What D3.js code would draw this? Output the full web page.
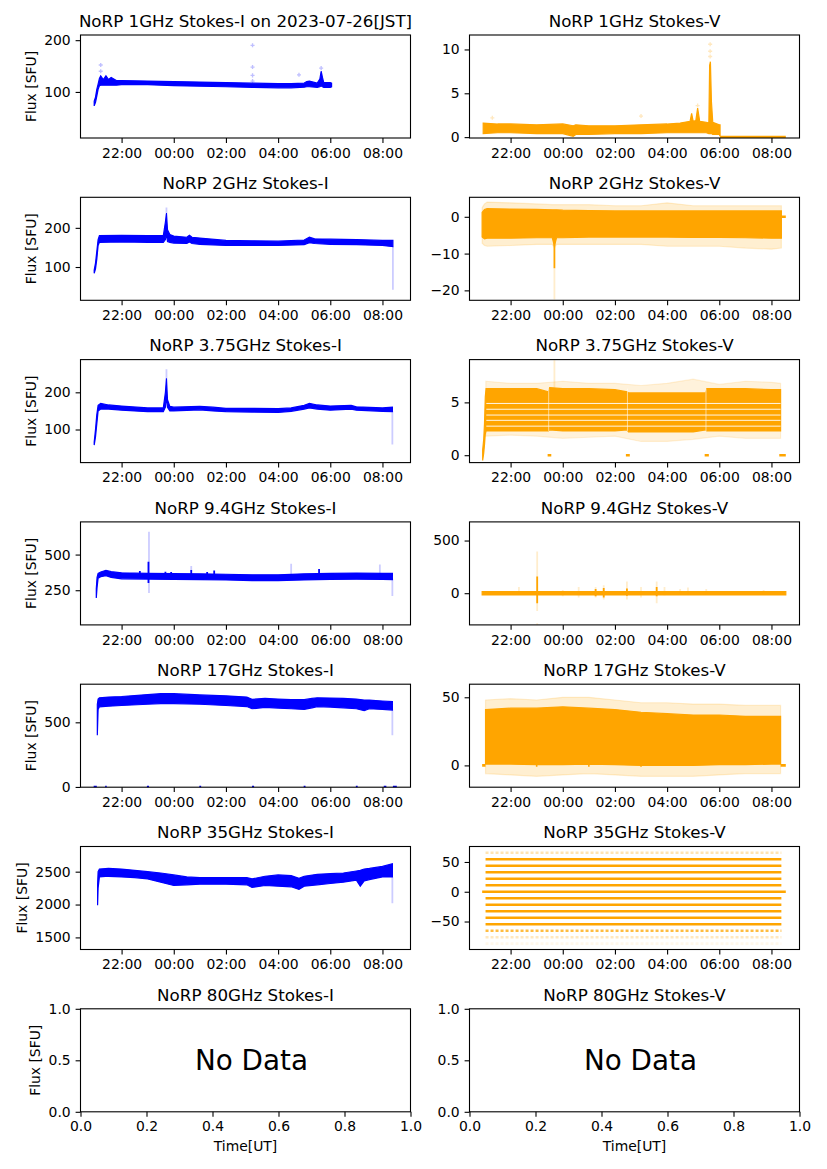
<!DOCTYPE html>
<html>
<head>
<meta charset="utf-8">
<script src="https://cdn.jsdelivr.net/npm/d3@7"></script>
<style>
  body { margin: 0; background: #fff; }
  svg { font-family: "DejaVu Sans", sans-serif; }
</style>
</head>
<body>
<svg id="fig" width="827" height="1169"></svg>
<script>
// times are decimal hours UT counted from 2023-07-25 00:00 (so 24.5 = 00:30 next day)

// 1 GHz Stokes-I
const t1I  = [20.95, 21.0, 21.05, 21.1, 21.15, 21.2, 21.3, 21.4, 21.5, 21.6, 21.8, 22.0, 23.0, 24.0, 25.0, 26.0, 27.0, 28.0, 28.5, 29.0, 29.1, 29.2, 29.5, 29.6, 29.65, 29.7, 29.75, 30.0, 30.05];
const lo1I = [73, 80, 92, 105, 112, 113, 113, 113, 113, 113, 113, 114, 114, 112, 111, 110, 109, 108, 108, 109, 110, 110, 109, 110, 112, 110, 109, 109, 110];
const hi1I = [82, 90, 105, 115, 126, 131, 124, 131, 124, 128, 122, 122, 121, 120, 119, 118, 117, 116, 116, 117, 120, 121, 117, 125, 140, 128, 118, 118, 117];
const pts1I = [[21.2, 152], [21.2, 140], [27.02, 190], [27.02, 148], [27.02, 132], [27.02, 121], [28.8, 133], [29.65, 146]];

// 1 GHz Stokes-V
const t1V  = [20.95, 21.5, 22, 23, 24, 24.4, 24.5, 25, 26, 27, 28, 28.5, 28.88, 28.94, 29.0, 29.1, 29.17, 29.25, 29.5, 29.6, 29.63, 29.66, 29.7, 29.75, 30.0, 30.03];
const lo1V = [0.4, 0.5, 0.5, 0.4, 0.4, 0.1, 0.3, 0.3, 0.4, 0.4, 0.5, 0.5, 0.5, 0.5, 0.5, 0.5, 0.5, 0.5, 0.5, 0.4, 0.4, 0.4, 0.4, 0.3, 0.3, 0.1];
const hi1V = [1.6, 1.5, 1.5, 1.4, 1.5, 1.3, 1.4, 1.3, 1.3, 1.4, 1.5, 1.6, 1.8, 2.7, 1.8, 1.9, 3.3, 1.8, 1.7, 1.6, 8.2, 8.6, 4.0, 1.7, 1.4, 1.4];
const zero1V = [[30.03, 32.55]];
const pts1V = [[21.3, 2.2], [27.0, 2.4], [29.65, 10.6], [29.65, 9.8], [29.65, 9.2], [29.17, 3.6]];

// 2 GHz Stokes-I
const t2I  = [20.95, 21.0, 21.05, 21.1, 21.15, 22.0, 23.0, 23.6, 23.68, 23.72, 23.76, 23.85, 24.0, 24.5, 24.6, 24.7, 25.0, 26.0, 27.0, 28.0, 29.0, 29.2, 29.4, 30.0, 31.0, 32.0, 32.4];
const lo2I = [84, 95, 120, 155, 163, 164, 163, 163, 170, 185, 165, 163, 161, 160, 164, 160, 158, 155, 155, 155, 157, 162, 160, 158, 157, 155, 152];
const hi2I = [92, 110, 140, 170, 180, 181, 180, 180, 215, 238, 195, 183, 179, 176, 181, 176, 174, 168, 167, 166, 169, 176, 172, 171, 170, 168, 168];
const faint2I = [[23.72, 238, 252], [32.4, 42, 152]];

// 2 GHz Stokes-V
const t2V  = [20.91, 21.0, 21.1, 22, 23, 23.6, 23.68, 23.76, 24, 25, 26, 27, 28, 29, 30, 31, 32, 32.38];
const lo2V = [-5.5, -6.0, -5.8, -5.8, -5.7, -5.7, -8, -5.7, -5.7, -5.5, -5.5, -5.5, -5.5, -5.6, -5.6, -5.7, -5.8, -5.8];
const hi2V = [1.2, 2.0, 2.2, 2.1, 2.0, 1.9, 1.9, 1.9, 1.8, 1.7, 1.6, 1.6, 1.6, 1.6, 1.6, 1.6, 1.6, 1.6];
const haloLo2V = [-7.2, -7.8, -8, -7.8, -7.5, -7.5, -8.5, -7.5, -7.5, -7.5, -7.5, -7.5, -8, -8, -8, -8.5, -8.8, -8.5];
const haloHi2V = [2.5, 3.5, 4.0, 3.8, 3.5, 3.3, 3.3, 3.3, 3.3, 3.3, 3.0, 3.0, 3.8, 3.0, 3.0, 3.0, 3.0, 3.0];
const spike2V = [[23.68, -14, -6]];
const faint2V = [[23.68, -22.5, -14]];
const zero2V = [[32.38, 32.55]];

// 3.75 GHz Stokes-I
const t3I  = [20.95, 21.0, 21.05, 21.1, 21.2, 21.5, 22.0, 23.0, 23.6, 23.68, 23.72, 23.76, 23.85, 24.0, 25.0, 25.5, 26.0, 27.0, 28.0, 28.5, 29.0, 29.2, 29.5, 30.0, 30.8, 31.0, 32.0, 32.38];
const lo3I = [58, 80, 115, 150, 155, 155, 152, 148, 148, 160, 190, 160, 150, 150, 153, 150, 148, 147, 146, 149, 155, 158, 155, 152, 155, 152, 149, 148];
const hi3I = [66, 100, 140, 165, 170, 166, 163, 158, 158, 200, 238, 180, 162, 160, 162, 160, 157, 157, 156, 158, 165, 170, 166, 163, 165, 161, 158, 160];
const faint3I = [[23.72, 238, 262], [32.38, 60, 150]];

// 3.75 GHz Stokes-V
const t3V  = [20.93, 20.97, 21.0, 21.03, 21.06, 21.1, 22.0, 23.0, 23.45, 23.5, 24.0, 25.0, 26.0, 26.47, 26.52, 27.0, 28.0, 29.0, 29.48, 29.52, 30.0, 31.0, 32.0, 32.35];
const lo3V = [-0.5, 0.2, 1.0, 2.0, 2.3, 2.3, 2.3, 2.3, 2.3, 2.4, 2.3, 2.3, 2.3, 2.4, 2.2, 2.2, 2.2, 2.2, 2.4, 2.3, 2.3, 2.3, 2.3, 2.3];
const hi3V = [0.5, 1.5, 3.0, 5.5, 6.3, 6.3, 6.3, 6.3, 6.0, 6.4, 6.3, 6.3, 6.2, 6.0, 5.9, 5.9, 5.9, 5.9, 5.9, 6.3, 6.3, 6.3, 6.2, 6.2];
const tHalo3V  = [21.05, 22, 23, 24, 25, 26, 27, 28, 29, 30, 31, 32, 32.35];
const haloLo3V = [1.8, 1.9, 1.8, 1.6, 1.7, 1.8, 1.3, 1.3, 1.5, 1.8, 1.6, 1.6, 1.6];
const haloHi3V = [7.0, 6.8, 6.8, 7.0, 6.8, 6.8, 6.6, 6.8, 7.2, 6.7, 7.0, 6.9, 6.8];
const gapLevels3V = [2.75, 3.3, 3.8, 4.35, 4.9];
const gapTimes3V = [23.46, 26.48, 29.49];
const zero3V = [[23.42, 23.56], [26.42, 26.57], [29.44, 29.6], [32.3, 32.55]];
const faint3V = [[23.68, 6.3, 9.0]];

// 9.4 GHz Stokes-I
const t4I  = [21.03, 21.06, 21.1, 21.2, 21.4, 21.6, 22.0, 23.0, 24.0, 25.0, 26.0, 27.0, 28.0, 29.0, 30.0, 31.0, 32.0, 32.38];
const lo4I = [195, 270, 335, 345, 352, 340, 330, 328, 326, 325, 322, 318, 318, 322, 326, 327, 326, 324];
const hi4I = [260, 340, 368, 378, 390, 380, 372, 368, 366, 365, 362, 358, 358, 365, 368, 370, 368, 368];
const spike4I = [[22.7, 350, 385], [23.03, 300, 450], [23.68, 350, 380], [23.9, 350, 378], [24.67, 350, 392], [25.28, 345, 378], [25.55, 345, 388], [29.57, 350, 398]];
const faint4I = [[23.05, 230, 660], [32.38, 210, 330], [28.5, 360, 435], [31.9, 370, 430], [24.67, 380, 420]];

// 9.4 GHz Stokes-V
const t4V  = [20.91, 23.0, 26.0, 29.0, 32.55];
const lo4V = [-16, -16, -16, -16, -16];
const hi4V = [16, 16, 16, 16, 16];
const spike4V = [[23.02, -95, 158], [25.57, -40, 50], [25.26, -30, 40], [27.6, -30, 60], [26.46, -25, 45]];
const faint4V = [[23.02, -170, 395], [23.02, -300, -285], [22.32, 20, 60], [24.61, -40, 60], [25.26, -40, 60], [25.57, -60, 75], [26.46, -60, 110], [27.0, -40, 60], [27.6, -95, 110], [27.9, -20, 60], [28.5, -10, 40], [28.8, -10, 55], [29.5, -10, 40], [31.7, -10, 30], [24.0, -30, 30]];

// 17 GHz Stokes-I
const t5I  = [21.07, 21.1, 21.15, 21.5, 22, 23, 23.5, 24, 25, 26, 26.8, 27.0, 27.5, 28, 28.5, 29, 29.3, 29.5, 30, 30.5, 31, 31.3, 31.5, 32, 32.38];
const lo5I = [400, 600, 620, 625, 630, 640, 645, 645, 640, 630, 622, 605, 615, 610, 605, 600, 612, 622, 618, 612, 605, 590, 605, 600, 595];
const hi5I = [640, 680, 690, 695, 700, 715, 722, 722, 712, 705, 695, 678, 685, 680, 675, 675, 685, 690, 688, 685, 680, 672, 672, 665, 660];
const zero5I = [[20.93, 21.05], [21.37, 21.43], [22.97, 23.05], [24.98, 25.05], [27.0, 27.08], [28.98, 29.05], [30.98, 31.05], [32.05, 32.15], [32.4, 32.55]];
const faint5I = [[32.38, 400, 600]];

// 17 GHz Stokes-V
const t5V  = [21.04, 22, 23, 24, 25, 26, 27, 28, 29, 30, 31, 32, 32.35];
const lo5V = [1, 1, 0.5, 0.5, 1, 0.5, 0, 0, 0, 0.5, 0.5, 1, 1];
const hi5V = [41, 42, 42, 43, 42, 41, 39, 38, 37, 37, 36, 36, 36];
const haloLo5V = [-6, -7, -8, -7, -6, -7, -8, -8, -8, -7, -6, -6, -6];
const haloHi5V = [48, 49, 48, 50, 50, 48, 46, 46, 45, 45, 44, 44, 44];
const zero5V = [[20.91, 21.04], [22.97, 23.03], [24.97, 25.03], [26.97, 27.03], [32.35, 32.55]];

// 35 GHz Stokes-I
const t6I  = [21.08, 21.1, 21.15, 21.5, 22, 22.5, 23, 23.5, 24, 24.5, 25, 26, 26.8, 27.0, 27.5, 28, 28.5, 28.8, 29, 29.5, 30, 30.5, 31, 31.15, 31.3, 31.5, 32, 32.38];
const lo6I = [1990, 2250, 2420, 2430, 2420, 2410, 2390, 2340, 2290, 2300, 2310, 2310, 2300, 2260, 2290, 2280, 2270, 2230, 2280, 2300, 2320, 2340, 2370, 2280, 2360, 2380, 2420, 2420];
const hi6I = [2300, 2500, 2540, 2550, 2540, 2520, 2500, 2480, 2450, 2420, 2410, 2410, 2410, 2390, 2430, 2450, 2440, 2400, 2430, 2460, 2470, 2480, 2510, 2520, 2540, 2550, 2580, 2620];
const faint6I = [[32.38, 2020, 2420]];

// 35 GHz Stokes-V: quantised levels and how densely each is populated
const span6V = [21.04, 32.38];
const levels6V  = [-87.2, -76.3, -65.4, -54.5, -43.6, -32.7, -21.8, -10.9, 10.9, 21.8, 32.7, 43.6, 54.5, 65.4];
const density6V = [0.08, 0.25, 0.75, 1, 1, 1, 1, 1, 1, 1, 1, 1, 1, 0.3];
const zero6V = [[20.91, 32.55]];

// axis ticks
const xTickHours = [22, 24, 26, 28, 30, 32];
const xHours = [20.425, 33.075];
const noDataTicks = [0, 0.2, 0.4, 0.6, 0.8, 1.0];

const ORIGIN = Date.UTC(2023, 6, 25);
const toDate = h => new Date(ORIGIN + h * 36e5);
const BLUE = "#0000ff", ORANGE = "#ffa500";

const svg = d3.select("#fig");
const W = 330, H = 103;
const colX = [80.5, 469.5];
const rowY = r => 35 + r * 162.3;
const TICK_FS = 13.9;

function rows(t, lo, hi) {
    return t.map((d, i) => ({ t: d, lo: lo[i], hi: hi[i] }));
}

function panel(p) {
    const g = svg.append("g").attr("transform", `translate(${colX[p.col]},${rowY(p.row)})`);
    const x = p.noData
        ? d3.scaleLinear().domain([0, 1]).range([0, W])
        : d3.scaleUtc().domain(xHours.map(toDate)).range([0, W]);
    const y = d3.scaleLinear().domain(p.yDomain).range([H, 0]);
    const X = h => x(toDate(h));

    const id = `clip${p.row}${p.col}`;
    g.append("clipPath").attr("id", id).append("rect").attr("width", W).attr("height", H);
    const plot = g.append("g").attr("clip-path", `url(#${id})`);

    // filled bands: halo first, core after
    (p.bands || []).forEach(b => {
        plot.append("path").datum(rows(b.t, b.lo, b.hi))
            .attr("d", d3.area().x(d => X(d.t)).y0(d => y(d.lo)).y1(d => y(d.hi)))
            .attr("fill", p.color).attr("fill-opacity", b.alpha)
            .attr("stroke", p.color).attr("stroke-opacity", b.alpha).attr("stroke-width", 1.2);
    });

    // quantised levels (35 GHz V)
    if (p.levels) {
        plot.selectAll(".lvl").data(p.levels.values).enter().append("line")
            .attr("x1", X(p.levels.span[0])).attr("x2", X(p.levels.span[1]))
            .attr("y1", d => y(d)).attr("y2", d => y(d))
            .attr("stroke", p.color).attr("stroke-width", 2.6)
            .attr("stroke-opacity", (d, i) => p.levels.density[i])
            .attr("stroke-dasharray", (d, i) => p.levels.density[i] < 1 ? "3,2" : null);
    }

    // white quantisation gaps (3.75 GHz V)
    if (p.gaps) {
        plot.selectAll(".gapH").data(p.gaps.levels).enter().append("line")
            .attr("x1", X(21.07)).attr("x2", X(32.35))
            .attr("y1", d => y(d)).attr("y2", d => y(d))
            .attr("stroke", "#fff").attr("stroke-width", 0.9);
        plot.selectAll(".gapV").data(p.gaps.times).enter().append("line")
            .attr("x1", d => X(d)).attr("x2", d => X(d))
            .attr("y1", y(6.3)).attr("y2", y(2.3))
            .attr("stroke", "#fff").attr("stroke-width", 0.8).attr("stroke-opacity", 0.7);
    }

    // runs of exact zeros
    (p.zeros || []).forEach(z => {
        plot.append("line")
            .attr("x1", X(z[0])).attr("x2", X(z[1]))
            .attr("y1", y(0)).attr("y2", y(0))
            .attr("stroke", p.color).attr("stroke-width", 2.6);
    });

    // vertical streaks of points (spikes)
    const streak = (arr, alpha) => plot.selectAll(null).data(arr || []).enter().append("line")
        .attr("x1", d => X(d[0])).attr("x2", d => X(d[0]))
        .attr("y1", d => y(d[1])).attr("y2", d => y(d[2]))
        .attr("stroke", p.color).attr("stroke-width", 1.8).attr("stroke-opacity", alpha);
    streak(p.spikes, 1);
    streak(p.faint, 0.2);

    // isolated faint markers
    plot.selectAll(null).data(p.points || []).enter().append("path")
        .attr("d", d3.symbol(d3.symbolCross, 9))
        .attr("transform", d => `translate(${X(d[0])},${y(d[1])})`)
        .attr("fill", p.color).attr("fill-opacity", 0.25);

    // axes
    const xAxis = p.noData
        ? d3.axisBottom(x).tickValues(noDataTicks).tickFormat(d3.format(".1f"))
        : d3.axisBottom(x).tickValues(xTickHours.map(toDate)).tickFormat(d3.utcFormat("%H:%M"));
    const gx = g.append("g").attr("transform", `translate(0,${H})`)
        .call(xAxis.tickSize(4.9).tickPadding(4.9));
    const yAxis = d3.axisLeft(y).tickValues(p.yTicks).tickSize(4.9).tickPadding(4.9)
        .tickFormat(d3.format(p.noData ? ".1f" : "d"));
    const gy = g.append("g").call(yAxis);
    [gx, gy].forEach(a => {
        a.attr("font-size", TICK_FS).attr("font-family", "DejaVu Sans");
        a.select(".domain").remove();
        a.selectAll(".tick line").attr("stroke-width", 1.1);
        a.selectAll(".tick text").attr("fill", "#000");
    });

    g.append("rect").attr("width", W).attr("height", H)
        .attr("fill", "none").attr("stroke", "#000").attr("stroke-width", 1.1);

    g.append("text").attr("x", W / 2).attr("y", -8.3)
        .attr("text-anchor", "middle").attr("font-size", 16.7).text(p.title);

    if (p.col === 0) {
        const bb = gy.node().getBBox();
        const lx = bb.x - 5.6 - 3;
        g.append("text").attr("transform", `translate(${lx},${H / 2}) rotate(-90)`)
            .attr("text-anchor", "middle").attr("font-size", TICK_FS).text("Flux [SFU]");
    }

    if (p.noData) {
        g.append("text").attr("x", W / 2 + 6).attr("y", H / 2)
            .attr("text-anchor", "middle").attr("dominant-baseline", "central")
            .attr("font-size", 27.8).text("No Data");
        g.append("text").attr("x", W / 2).attr("y", H + 39.5)
            .attr("text-anchor", "middle").attr("font-size", TICK_FS).text("Time[UT]");
    }
}

const panels = [
    { row: 0, col: 0, title: "NoRP 1GHz Stokes-I on 2023-07-26[JST]", color: BLUE,
      yDomain: [11, 210], yTicks: [100, 200],
      bands: [{ t: t1I, lo: lo1I, hi: hi1I, alpha: 1 }], points: pts1I },
    { row: 0, col: 1, title: "NoRP 1GHz Stokes-V", color: ORANGE,
      yDomain: [-0.1, 11.65], yTicks: [0, 5, 10],
      bands: [{ t: t1V, lo: lo1V, hi: hi1V, alpha: 1 }], zeros: zero1V, points: pts1V },
    { row: 1, col: 0, title: "NoRP 2GHz Stokes-I", color: BLUE,
      yDomain: [15, 278], yTicks: [100, 200],
      bands: [{ t: t2I, lo: lo2I, hi: hi2I, alpha: 1 }], faint: faint2I },
    { row: 1, col: 1, title: "NoRP 2GHz Stokes-V", color: ORANGE,
      yDomain: [-22.7, 5.3], yTicks: [-20, -10, 0],
      bands: [{ t: t2V, lo: haloLo2V, hi: haloHi2V, alpha: 0.18 }, { t: t2V, lo: lo2V, hi: hi2V, alpha: 1 }],
      spikes: spike2V, faint: faint2V, zeros: zero2V },
    { row: 2, col: 0, title: "NoRP 3.75GHz Stokes-I", color: BLUE,
      yDomain: [11, 288], yTicks: [100, 200],
      bands: [{ t: t3I, lo: lo3I, hi: hi3I, alpha: 1 }], faint: faint3I },
    { row: 2, col: 1, title: "NoRP 3.75GHz Stokes-V", color: ORANGE,
      yDomain: [-0.7, 9.05], yTicks: [0, 5],
      bands: [{ t: tHalo3V, lo: haloLo3V, hi: haloHi3V, alpha: 0.14 }, { t: t3V, lo: lo3V, hi: hi3V, alpha: 1 }],
      gaps: { levels: gapLevels3V, times: gapTimes3V }, zeros: zero3V, faint: faint3V },
    { row: 3, col: 0, title: "NoRP 9.4GHz Stokes-I", color: BLUE,
      yDomain: [7, 729], yTicks: [250, 500],
      bands: [{ t: t4I, lo: lo4I, hi: hi4I, alpha: 1 }], spikes: spike4I, faint: faint4I },
    { row: 3, col: 1, title: "NoRP 9.4GHz Stokes-V", color: ORANGE,
      yDomain: [-301, 677], yTicks: [0, 500],
      bands: [{ t: t4V, lo: lo4V, hi: hi4V, alpha: 1 }], spikes: spike4V, faint: faint4V },
    { row: 4, col: 0, title: "NoRP 17GHz Stokes-I", color: BLUE,
      yDomain: [-2, 795], yTicks: [0, 500],
      bands: [{ t: t5I, lo: lo5I, hi: hi5I, alpha: 1 }], zeros: zero5I, faint: faint5I },
    { row: 4, col: 1, title: "NoRP 17GHz Stokes-V", color: ORANGE,
      yDomain: [-16, 59.6], yTicks: [0, 50],
      bands: [{ t: t5V, lo: haloLo5V, hi: haloHi5V, alpha: 0.18 }, { t: t5V, lo: lo5V, hi: hi5V, alpha: 1 }],
      zeros: zero5V },
    { row: 5, col: 0, title: "NoRP 35GHz Stokes-I", color: BLUE,
      yDomain: [1316, 2883], yTicks: [1500, 2000, 2500],
      bands: [{ t: t6I, lo: lo6I, hi: hi6I, alpha: 1 }], faint: faint6I },
    { row: 5, col: 1, title: "NoRP 35GHz Stokes-V", color: ORANGE,
      yDomain: [-97, 76], yTicks: [-50, 0, 50],
      levels: { span: span6V, values: levels6V, density: density6V }, zeros: zero6V },
    { row: 6, col: 0, title: "NoRP 80GHz Stokes-I", color: BLUE, noData: true,
      yDomain: [0, 1], yTicks: [0, 0.5, 1.0] },
    { row: 6, col: 1, title: "NoRP 80GHz Stokes-V", color: ORANGE, noData: true,
      yDomain: [0, 1], yTicks: [0, 0.5, 1.0] }
];

panels.forEach(panel);
</script>
</body>
</html>
